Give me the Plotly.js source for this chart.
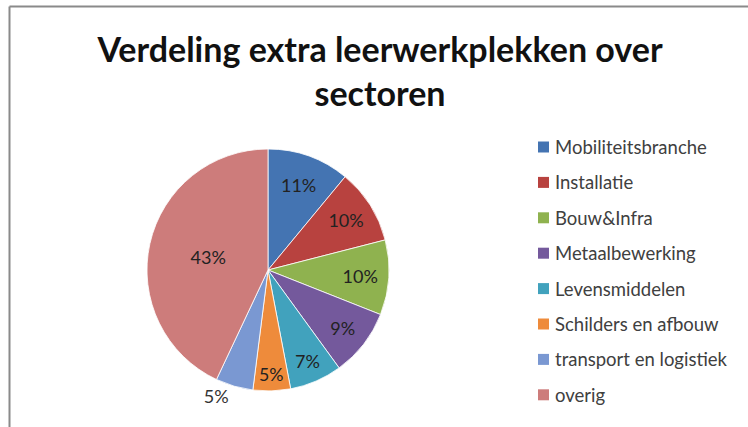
<!DOCTYPE html>
<html>
<head>
<meta charset="utf-8">
<script src="https://cdn.plot.ly/plotly-3.0.1.min.js"></script>
<style>html,body{margin:0;padding:0;background:#fff;}#chart{width:748px;height:427px;}</style>
</head>
<body>
<div id="chart"></div>
<script>
const sectors = ["Mobiliteitsbranche","Installatie","Bouw&Infra","Metaalbewerking","Levensmiddelen","Schilders en afbouw","transport en logistiek","overig"];
const shares = [11,10,10,9,7,5,5,43];
const colors = ["#4474B2","#B8423F","#8FB24F","#74599C","#41A2BD","#EE8B3B","#7A98D2","#CD7C7B"];
const labelPositions = ["inside","inside","inside","inside","inside","inside","outside","inside"];

const W = 748, H = 427;
const font = "Lato, 'Open Sans', sans-serif";

// pie geometry (pixels)
const cx = 268, cy = 270, R = 121;

const trace = {
  type: "pie",
  labels: sectors,
  values: shares,
  sort: false,
  direction: "clockwise",
  rotation: 0,
  marker: {colors: colors, line: {color: "#ffffff", width: 0.8}},
  texttemplate: "%{value}%",
  textinfo: "text",
  textposition: labelPositions,
  insidetextorientation: "horizontal",
  textfont: {family: font, size: 18, color: "#222222"},
  outsidetextfont: {family: font, size: 18, color: "#333333"},
  hoverinfo: "label+value",
  domain: {x: [(cx - R) / W, (cx + R) / W], y: [(H - cy - R) / H, (H - cy + R) / H]},
  showlegend: false
};

// custom legend built from the arrays
const legendTop = 147, legendStep = 35.4;
const annotations = sectors.map((s, i) => ({
  xref: "paper", yref: "paper",
  x: 553 / W, y: (H - (legendTop + i * legendStep)) / H,
  xanchor: "left", yanchor: "middle",
  text: s, showarrow: false,
  font: {family: font, size: 18.5, color: "#404040"}
}));
const shapes = sectors.map((s, i) => {
  const yc = legendTop + i * legendStep;
  return {
    type: "rect", xref: "paper", yref: "paper",
    x0: 538 / W, x1: 549 / W, y0: (H - yc - 5.5) / H, y1: (H - yc + 5.5) / H,
    fillcolor: colors[i], line: {width: 0}
  };
});
// chart frame (top and left edge)
shapes.push({type: "line", xref: "paper", yref: "paper", x0: 9.5 / W, x1: 1, y0: (H - 6.5) / H, y1: (H - 6.5) / H, line: {color: "#8a8a8a", width: 2}});
shapes.push({type: "line", xref: "paper", yref: "paper", x0: 9.5 / W, x1: 9.5 / W, y0: 0, y1: (H - 6.5) / H, line: {color: "#8a8a8a", width: 2}});

const layout = {
  width: W, height: H,
  margin: {l: 0, r: 0, t: 0, b: 0},
  paper_bgcolor: "#ffffff",
  title: {
    text: "Verdeling extra leerwerkplekken over<br>sectoren",
    font: {family: font, size: 34, color: "#111111", weight: "bold"},
    x: 380 / W, xanchor: "center",
    y: 1 - 62 / H, yanchor: "top", yref: "container"
  },
  showlegend: false,
  annotations: annotations,
  shapes: shapes
};

Plotly.newPlot("chart", [trace], layout, {displayModeBar: false, staticPlot: true});
</script>
</body>
</html>
